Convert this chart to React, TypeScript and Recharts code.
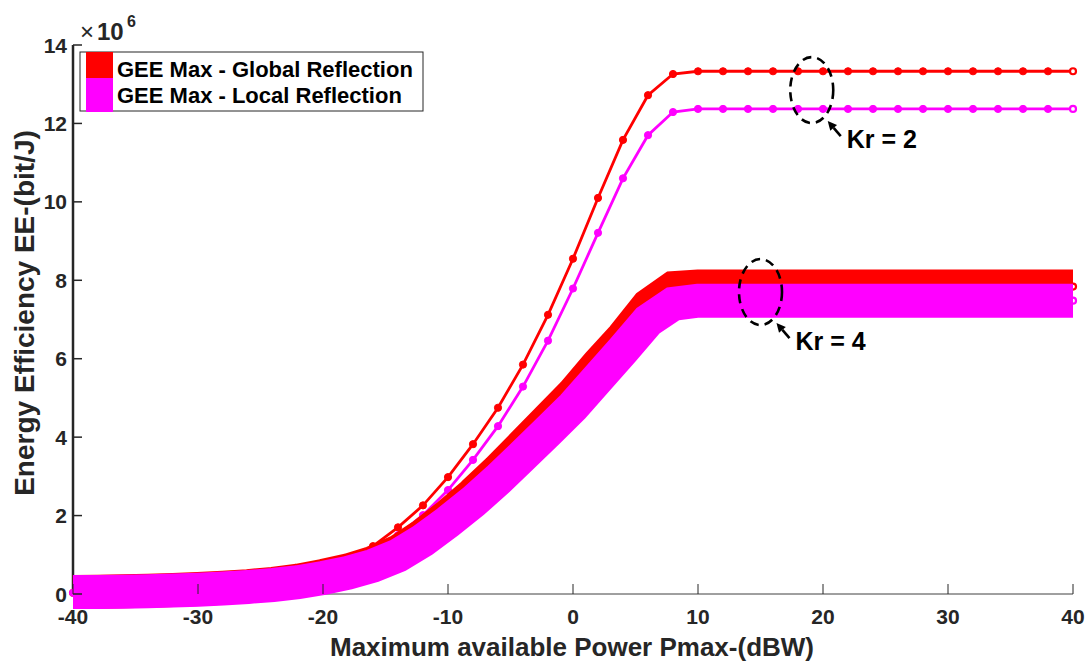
import React from 'react';
import { LineChart, Line, XAxis, YAxis, ReferenceDot } from 'recharts';

// Maximum available power Pmax (dBW)
const power = [-40, -38, -36, -34, -32, -30, -28, -26, -24, -22, -20, -18, -16, -14, -12, -10, -8, -6, -4, -2, 0, 2, 4, 6, 8, 10, 12, 14, 16, 18, 20, 22, 24, 26, 28, 30, 32, 34, 36, 38, 40];

// Energy efficiency (x10^6 bit/J)
const globalKr2 = [0.03, 0.04, 0.06, 0.08, 0.11, 0.15, 0.2, 0.27, 0.36, 0.48, 0.63, 0.88, 1.22, 1.7, 2.26, 2.98, 3.82, 4.75, 5.85, 7.12, 8.55, 10.1, 11.58, 12.72, 13.26, 13.33, 13.33, 13.33, 13.33, 13.33, 13.33, 13.33, 13.33, 13.33, 13.33, 13.33, 13.33, 13.33, 13.33, 13.33, 13.33];
const localKr2 = [0.03, 0.04, 0.05, 0.07, 0.1, 0.13, 0.18, 0.24, 0.32, 0.42, 0.55, 0.76, 1.07, 1.5, 2.01, 2.65, 3.42, 4.28, 5.29, 6.46, 7.79, 9.21, 10.6, 11.7, 12.29, 12.37, 12.37, 12.37, 12.37, 12.37, 12.37, 12.37, 12.37, 12.37, 12.37, 12.37, 12.37, 12.37, 12.37, 12.37, 12.37];
const globalKr4 = [0.05, 0.06, 0.07, 0.08, 0.1, 0.13, 0.16, 0.2, 0.26, 0.34, 0.46, 0.6, 0.8, 1.08, 1.5, 2.0, 2.55, 3.15, 3.8, 4.45, 5.1, 5.85, 6.55, 7.35, 7.8, 7.84, 7.84, 7.84, 7.84, 7.84, 7.84, 7.84, 7.84, 7.84, 7.84, 7.84, 7.84, 7.84, 7.84, 7.84, 7.84];
const localKr4 = [0.05, 0.05, 0.06, 0.07, 0.09, 0.11, 0.14, 0.18, 0.23, 0.3, 0.41, 0.54, 0.72, 0.98, 1.37, 1.84, 2.35, 2.92, 3.53, 4.15, 4.78, 5.5, 6.22, 6.97, 7.4, 7.48, 7.48, 7.48, 7.48, 7.48, 7.48, 7.48, 7.48, 7.48, 7.48, 7.48, 7.48, 7.48, 7.48, 7.48, 7.48];

const xTicks = [-40, -30, -20, -10, 0, 10, 20, 30, 40];
const yTicks = [0, 2, 4, 6, 8, 10, 12, 14];
const legendLabels = ['GEE Max - Global Reflection', 'GEE Max - Local Reflection'];
const annotations = [
  { x: 19.1, y: 12.85, label: 'Kr = 2' },
  { x: 15.0, y: 7.7, label: 'Kr = 4' },
];

const data = power.map((p, i) => ({
  p,
  g2: globalKr2[i],
  l2: localKr2[i],
  g4: globalKr4[i],
  l4: localKr4[i],
}));

const FONT = '"Liberation Sans", Arial, Helvetica, sans-serif';
const RED = '#FF0000';
const MAG = '#FF00FF';
const AX = '#262626';

const makeDot = (color: string, onlyLast: boolean) => (props: any) => {
  const { cx, cy, index } = props;
  const last = index === power.length - 1;
  if (cx == null || cy == null || (onlyLast && !last)) return <g key={`d${color}${index}`} />;
  return (
    <circle
      key={`d${color}${index}`}
      cx={cx}
      cy={cy}
      r={last ? 3 : 3.6}
      fill={last ? '#fff' : color}
      stroke={color}
      strokeWidth={last ? 2.2 : 1}
    />
  );
};

const YTick = (props: any) => {
  const { x, y, payload } = props;
  return (
    <g>
      <line x1={x} x2={x + 9} y1={y} y2={y} stroke={AX} strokeWidth={1.5} />
      <text x={x - 6} y={y + 7.5} textAnchor="end" fontFamily={FONT} fontWeight="bold" fontSize={21} fill={AX}>
        {payload.value}
      </text>
    </g>
  );
};

const XTick = (props: any) => {
  const { x, y, payload } = props;
  return (
    <g>
      <line x1={x} x2={x} y1={y} y2={y - 10} stroke={AX} strokeWidth={1} />
      <text x={x} y={y + 30} textAnchor="middle" fontFamily={FONT} fontWeight="bold" fontSize={21} fill={AX}>
        {payload.value}
      </text>
    </g>
  );
};

const AnnotShape = (label: string) => (props: any) => {
  const { cx, cy } = props;
  const hx = cx + 16;
  const hy = cy + 31;
  const tx = cx + 29;
  const ty = cy + 46;
  const ang = Math.atan2(hy - ty, hx - tx);
  const L = 9;
  const W = 4.5;
  const bx = hx - L * Math.cos(ang);
  const by = hy - L * Math.sin(ang);
  const px = -Math.sin(ang) * W;
  const py = Math.cos(ang) * W;
  return (
    <g>
      <ellipse cx={cx} cy={cy} rx={21.5} ry={33} fill="none" stroke="#000" strokeWidth={2.6} strokeDasharray="9 6" />
      <line x1={tx} y1={ty} x2={bx} y2={by} stroke="#000" strokeWidth={2.6} />
      <polygon points={`${hx},${hy} ${bx + px},${by + py} ${bx - px},${by - py}`} fill="#000" />
      <text x={cx + 35} y={cy + 58} fontFamily={FONT} fontWeight="bold" fontSize={25} fill="#000">
        {label}
      </text>
    </g>
  );
};

export default function App() {
  return (
    <div style={{ position: 'absolute', left: 0, top: 0, width: 1089, height: 664, background: '#fff' }}>
      <LineChart width={1089} height={664} data={data} margin={{ top: 45, right: 16, left: 0, bottom: 0 }}>
        <XAxis
          dataKey="p"
          type="number"
          domain={[-40, 40]}
          ticks={xTicks}
          height={70}
          tickSize={0}
          tickMargin={0}
          tickLine={false}
          tick={<XTick />}
          axisLine={{ stroke: '#404040', strokeWidth: 1 }}
        />
        <YAxis
          type="number"
          domain={[0, 14]}
          ticks={yTicks}
          width={73}
          tickSize={0}
          tickMargin={0}
          tickLine={false}
          tick={<YTick />}
          axisLine={{ stroke: AX, strokeWidth: 2.5 }}
        />
        <Line dataKey="g2" stroke={RED} strokeWidth={2.8} dot={makeDot(RED, false)} activeDot={false} isAnimationActive={false} />
        <Line dataKey="l2" stroke={MAG} strokeWidth={2.8} dot={makeDot(MAG, false)} activeDot={false} isAnimationActive={false} />
        <Line dataKey="g4" stroke={RED} strokeWidth={34} dot={makeDot(RED, true)} activeDot={false} isAnimationActive={false} zIndex={700} />
        <Line dataKey="l4" stroke={MAG} strokeWidth={34} dot={makeDot(MAG, true)} activeDot={false} isAnimationActive={false} zIndex={710} />
        {annotations.map((a) => (
          <ReferenceDot key={a.label} x={a.x} y={a.y} ifOverflow="visible" shape={AnnotShape(a.label)} zIndex={900} />
        ))}
        <g>
          <text x={80} y={40} fontFamily={FONT} fontSize={24} fill={AX}>
            ×
          </text>
          <text x={97} y={40} fontFamily={FONT} fontWeight="bold" fontSize={24} fill={AX}>
            10
          </text>
          <text x={127} y={27} fontFamily={FONT} fontWeight="bold" fontSize={16} fill={AX}>
            6
          </text>
          <text x={572} y={656} textAnchor="middle" fontFamily={FONT} fontWeight="bold" fontSize={26} fill={AX}>
            Maximum available Power Pmax-(dBW)
          </text>
          <text
            x={34}
            y={313}
            textAnchor="middle"
            transform="rotate(-90 34 313)"
            fontFamily={FONT}
            fontWeight="bold"
            fontSize={28}
            fill={AX}
          >
            Energy Efficiency EE-(bit/J)
          </text>
          <rect x={80} y={52} width={343} height={59} fill="#fff" stroke={AX} strokeWidth={1} />
          <rect x={86} y={52} width={27} height={26} fill={RED} />
          <rect x={86} y={78} width={27} height={34} fill={MAG} />
          <text x={117} y={77} fontFamily={FONT} fontWeight="bold" fontSize={22} fill="#000">
            {legendLabels[0]}
          </text>
          <text x={117} y={103} fontFamily={FONT} fontWeight="bold" fontSize={22} fill="#000">
            {legendLabels[1]}
          </text>
        </g>
      </LineChart>
    </div>
  );
}
